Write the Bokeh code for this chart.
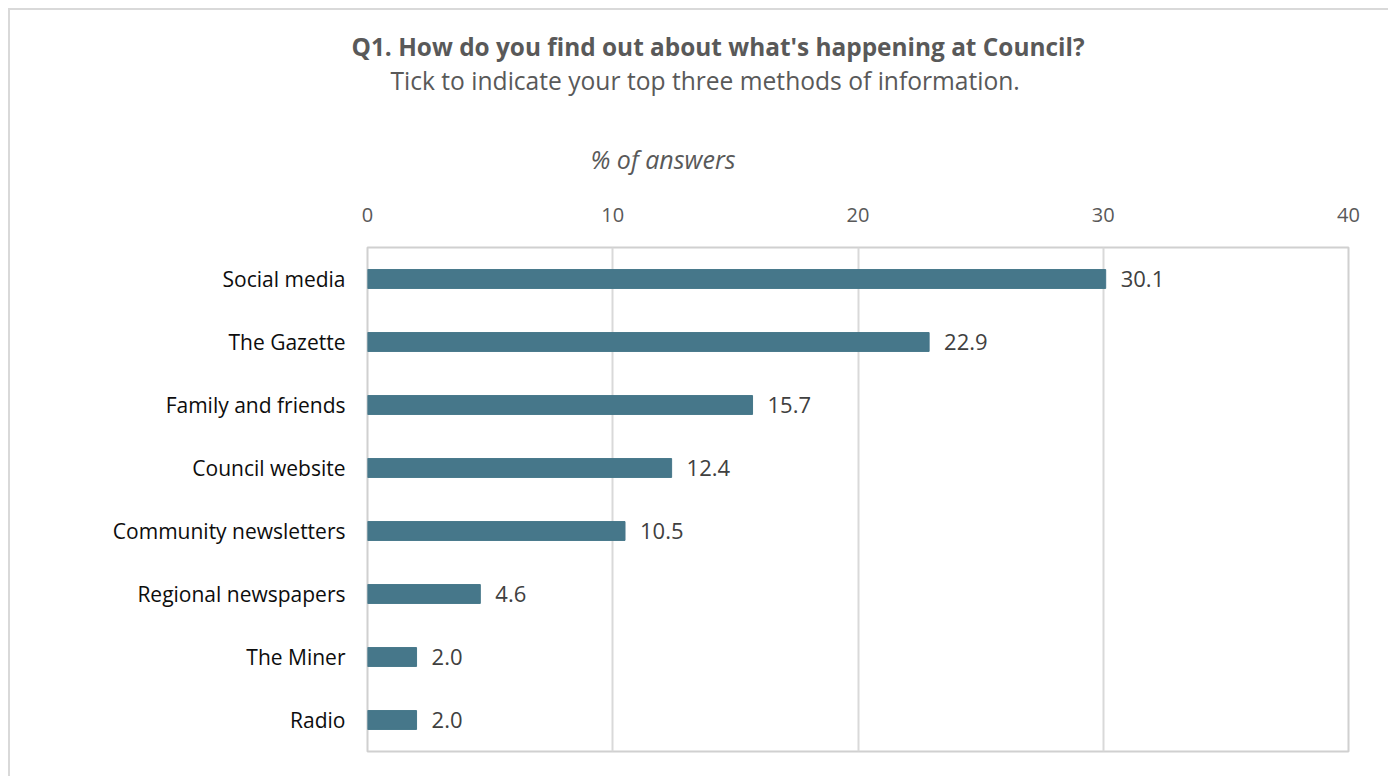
from bokeh.plotting import figure
from bokeh.models import FixedTicker, ColumnDataSource, LabelSet, Title
from bokeh.core.properties import value
from bokeh.embed import file_html
from bokeh.resources import INLINE

categories = ["Social media", "The Gazette", "Family and friends", "Council website",
              "Community newsletters", "Regional newspapers", "The Miner", "Radio"]
values = [30.1, 22.9, 15.7, 12.4, 10.5, 4.6, 2.0, 2.0]
x_ticks = [0, 10, 20, 30, 40]
title_text = "Q1. How do you find out about what's happening at Council?"
subtitle_text = "Tick to indicate your top three methods of information."
axis_title = "% of answers"

FONT = "Open Sans"
n = len(categories)
ypos = [n - i - 0.5 for i in range(n)]
src = ColumnDataSource(dict(y=ypos, v=values, cat=categories,
                            lbl=[f"{v:.1f}" for v in values]))

p = figure(width=1380, height=768, x_range=(0, 40), y_range=(0, n),
           x_axis_location="above", output_backend="svg", toolbar_location=None,
           min_border_left=357, min_border_right=42, min_border_top=237, min_border_bottom=27)
p.margin = (8, 0, 0, 8)
p.styles = {"border-top": "2px solid #d9d9d9", "border-left": "2px solid #d9d9d9"}

p.hbar(y="y", right="v", left=0, height=0.3, source=src, color="#46778A")

p.add_layout(LabelSet(x="v", y="y", text="lbl", source=src, x_offset=15,
                      text_baseline="middle", text_font=value(FONT),
                      text_font_size=value("22px"), text_color=value("#404040")))

p.outline_line_color = "#d0d0d0"
p.outline_line_width = 2
p.xgrid.grid_line_color = "#d9d9d9"
p.xgrid.grid_line_width = 2
p.ygrid.grid_line_color = None

xa = p.xaxis[0]
xa.ticker = FixedTicker(ticks=x_ticks)
xa.axis_line_color = None
xa.major_tick_line_color = None
xa.minor_tick_line_color = None
xa.major_label_standoff = 20
xa.major_label_text_font = FONT
xa.major_label_text_font_size = "20px"
xa.major_label_text_color = "#595959"

ya = p.yaxis[0]
ya.ticker = FixedTicker(ticks=ypos)
ya.major_label_overrides = {y: c for y, c in zip(ypos, categories)}
ya.axis_line_color = None
ya.major_tick_line_color = None
ya.minor_tick_line_color = None
ya.major_label_standoff = 16
ya.major_label_text_font = FONT
ya.major_label_text_font_size = "21px"
ya.major_label_text_color = "#0d0d0d"

p.add_layout(Title(text=axis_title, align="left", offset=223, standoff=58, text_font=FONT,
                   text_font_size="25px", text_font_style="italic", text_color="#595959"), "above")
p.add_layout(Title(text=subtitle_text, align="left", offset=23, standoff=27, text_font=FONT,
                   text_font_size="24.6px", text_font_style="normal", text_color="#595959"), "above")
p.title.text = title_text
p.title.align = "left"
p.title.offset = -16
p.title.standoff = -29
p.title.text_font = FONT
p.title.text_font_size = "24.4px"
p.title.text_font_style = "bold"
p.title.text_color = "#595959"

open("out.html", "w").write(file_html(p, INLINE))
